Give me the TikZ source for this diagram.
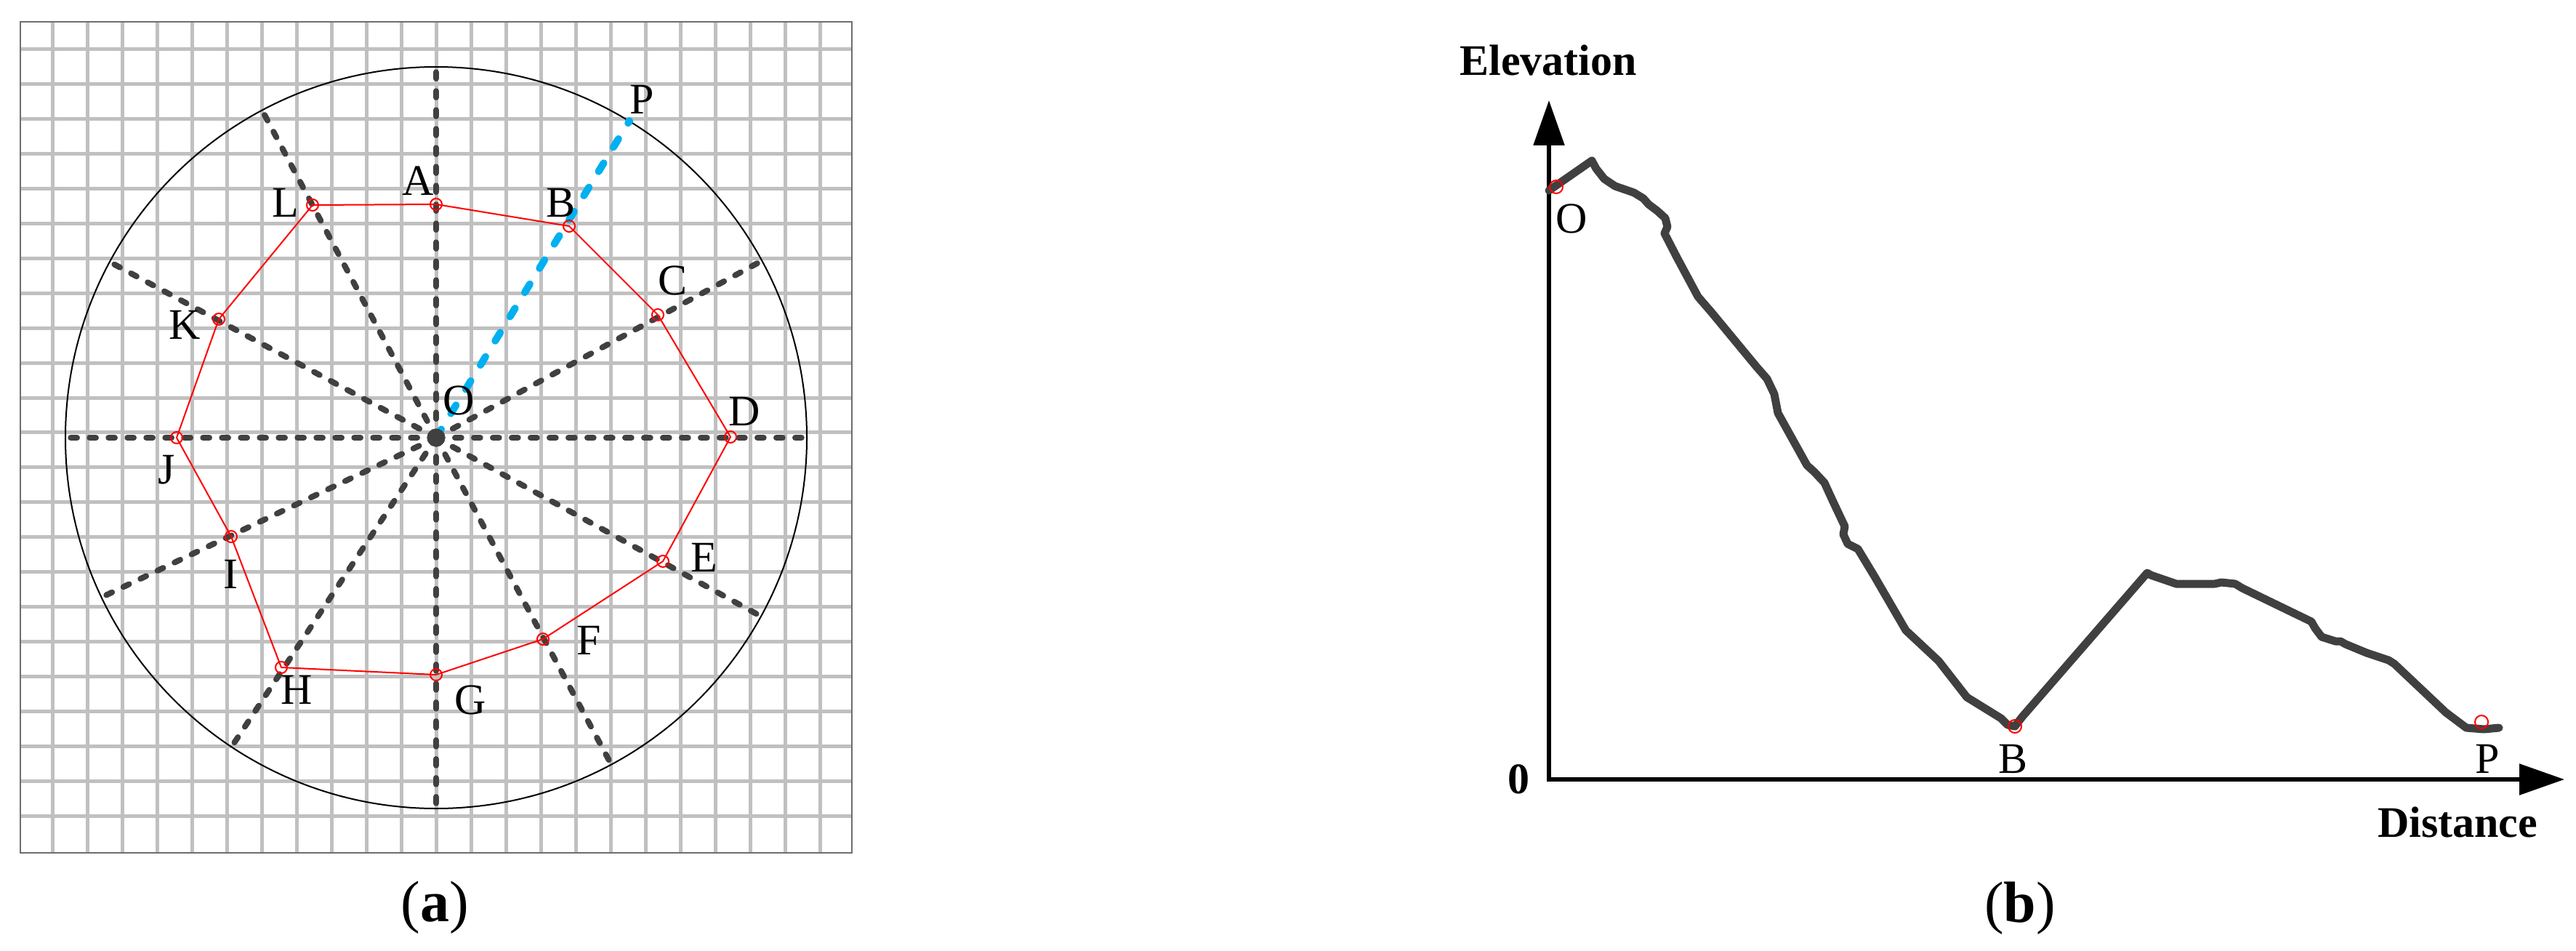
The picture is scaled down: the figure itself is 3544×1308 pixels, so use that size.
\documentclass[tikz,border=0pt]{standalone}
\usepackage{fontspec}
\setmainfont{Liberation Serif}
\usetikzlibrary{arrows.meta}
\definecolor{gridgray}{HTML}{C0C0C0}
\definecolor{darkline}{HTML}{404040}
\definecolor{skyblue}{HTML}{00B0F0}
\definecolor{framegray}{HTML}{6E6E6E}
\begin{document}
\begin{tikzpicture}[x=1pt,y=-1pt,
  lbl/.style={font=\fontsize{60}{72}\selectfont, anchor=base, inner sep=0pt},
  blbl/.style={font=\fontsize{60}{72}\selectfont\bfseries, anchor=base, inner sep=0pt},
  capt/.style={font=\fontsize{80}{96}\selectfont, anchor=base, inner sep=0pt},
  gridline/.style={draw=gridgray, line width=5pt},
  ray/.style={draw=darkline, line width=8pt, line cap=round, dash pattern=on 8.7pt off 17.3pt},
  blueray/.style={draw=skyblue, line width=10pt, line cap=round, dash pattern=on 13.5pt off 25.5pt},
  vtx/.style={circle, draw=red, line width=2pt, minimum size=16pt, inner sep=0pt},
  poly/.style={draw=red, line width=2pt, line join=round},
  axisline/.style={draw=black, line width=5.5pt},
  profile/.style={draw=darkline, line width=11pt, line join=round, line cap=round},
  axtip/.tip={Triangle[length=62pt,width=42pt]}
]
\useasboundingbox (0,0) rectangle (3544,1308);
% ---------------- panel (a) ----------------
\foreach \k in {0,...,22} {
  \draw[gridline] ({72+48*\k},30) -- ({72+48*\k},1173);
  \draw[gridline] (28,{67.3+47.97*\k}) -- (1172,{67.3+47.97*\k});
}
\draw[framegray, line width=2.5pt] (28,30) rectangle (1172,1173);
\coordinate (O) at (600,602);
\draw[black, line width=2pt] (O) circle[radius=510];
\foreach \a/\n in {0/rd,28.5/rc,90/ra,118/rl,151.7/rk,180/rj,205.5/ri,236.5/rh,270/rg,298.2/rf,331.2/re} {
  \path (O) ++(-\a:510) coordinate (\n);
  \draw[ray] (O) -- (\n);
}
\path (O) ++(-58.6:510) coordinate (P);
\draw[blueray] (O) -- (P);
\fill[skyblue] (P) circle[radius=5.5];
% polygon vertices
\node[vtx] (A) at (600,281) {};
\node[vtx] (B) at (783,311) {};
\node[vtx] (C) at (905,433) {};
\node[vtx] (D) at (1005,601) {};
\node[vtx] (E) at (912,772) {};
\node[vtx] (F) at (747,879) {};
\node[vtx] (G) at (600,928) {};
\node[vtx] (H) at (387,918) {};
\node[vtx] (I) at (318,738) {};
\node[vtx] (J) at (243,602) {};
\node[vtx] (K) at (301,439) {};
\node[vtx] (L) at (430,282) {};
\draw[poly] (A.center) -- (B.center) -- (C.center) -- (D.center) -- (E.center) -- (F.center) -- (G.center)
  -- (H.center) -- (I.center) -- (J.center) -- (K.center) -- (L.center) -- cycle;
\fill[darkline] (O) circle[radius=12.5];
% labels
\node[lbl] (lA) at (575,268) {A};
\node[lbl] (lB) at (772,298) {B};
\node[lbl] (lC) at (925,405) {C};
\node[lbl] (lD) at (1024,585) {D};
\node[lbl] (lE) at (969,786) {E};
\node[lbl] (lF) at (810,900) {F};
\node[lbl] (lG) at (647,982) {G};
\node[lbl] (lH) at (408,968) {H};
\node[lbl] (lI) at (317,809) {I};
\node[lbl] (lJ) at (229,665) {J};
\node[lbl] (lK) at (254,466) {K};
\node[lbl] (lL) at (393,298) {L};
\node[lbl] (lP) at (883,157) {P};
\node[lbl] (lO) at (631,570) {O};
\node[capt] (capa) at (598,1267) {(\textbf{a})};
% ---------------- panel (b) ----------------
\coordinate (org) at (2131,1072);
\coordinate (ytip) at (2131,138);
\coordinate (xtip) at (3528,1072);
\draw[axisline, axtip-axtip] (ytip) -- (org) -- (xtip);
\draw[profile] (2131,262) -- (2190,221) -- (2196,232) -- (2207,246) -- (2222,256) -- (2248,265)
  -- (2261,273) -- (2268,281) -- (2280,290) -- (2291,300) -- (2294,312) -- (2290,321)
  -- (2307,354) -- (2336,408) -- (2355,430) -- (2417,505) -- (2431,521) -- (2441,542)
  -- (2446,568) -- (2486,640) -- (2496,649) -- (2510,664) -- (2521,688) -- (2538,724)
  -- (2536,735) -- (2542,748) -- (2556,755) -- (2579,793) -- (2622,867) -- (2667,909)
  -- (2706,959) -- (2753,988) -- (2762,997) -- (2772,999) -- (2782,986) -- (2954,788)
  -- (2959,791) -- (2994,803) -- (3047,803) -- (3056,801) -- (3075,803) -- (3085,809)
  -- (3180,855) -- (3185,864) -- (3194,876) -- (3213,882) -- (3220,882) -- (3227,886)
  -- (3256,898) -- (3286,908) -- (3294,913) -- (3365,980) -- (3393,1001) -- (3417,1003)
  -- (3438,1001);
\node[vtx, minimum size=18pt] (bO) at (2141,257) {};
\node[vtx, minimum size=18pt] (bB) at (2772,999) {};
\node[vtx, minimum size=18pt] (bP) at (3414,993) {};
\node[lbl] (lbO) at (2162,320) {O};
\node[lbl] (lbB) at (2769,1063) {B};
\node[lbl] (lbP) at (3422,1063) {P};
\node[blbl] (elev) at (2130,104) {Elevation};
\node[blbl] (zero) at (2089,1091) {0};
\node[blbl] (dist) at (3381,1151) {Distance};
\node[capt] (capb) at (2779,1268) {(\textbf{b})};
\end{tikzpicture}
\end{document}
